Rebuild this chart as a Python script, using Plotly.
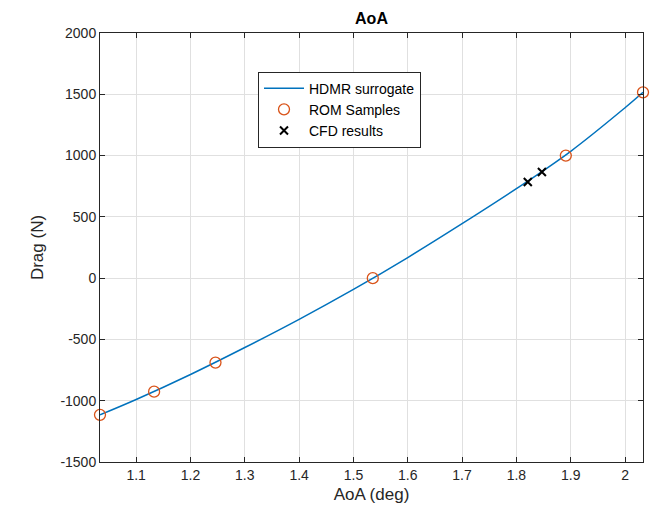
import plotly.graph_objects as go

# HDMR surrogate curve
curve_x = [1.0334, 1.1, 1.2, 1.3, 1.4, 1.5, 1.6, 1.7, 1.8, 1.9, 2.0, 2.0331]
curve_y = [-1115, -990, -786, -566, -336, -92, 168, 444, 730, 1035, 1390, 1516]

# ROM samples
rom_x = [1.0334, 1.133, 1.246, 1.5356, 1.891, 2.0331]
rom_y = [-1115, -926, -689, 0, 1000, 1516]

# CFD results
cfd_x = [1.821, 1.847]
cfd_y = [784, 866]

x_ticks = [1.1, 1.2, 1.3, 1.4, 1.5, 1.6, 1.7, 1.8, 1.9, 2.0]
x_tick_text = ["1.1", "1.2", "1.3", "1.4", "1.5", "1.6", "1.7", "1.8", "1.9", "2"]
y_ticks = [-1500, -1000, -500, 0, 500, 1000, 1500, 2000]
y_tick_text = ["-1500", "-1000", "-500", "0", "500", "1000", "1500", "2000"]

font_family = "Liberation Sans, Arial, Helvetica, sans-serif"
axis_col = "#262626"

fig = go.Figure()
fig.add_trace(go.Scatter(x=curve_x, y=curve_y, mode="lines", name="HDMR surrogate",
                         line=dict(color="#0072BD", width=1.5, shape="spline", smoothing=1.0)))
fig.add_trace(go.Scatter(x=rom_x, y=rom_y, mode="markers", name="ROM Samples", cliponaxis=False,
                         marker=dict(symbol="circle-open", size=11, color="#D95319", line=dict(width=1.3))))
fig.add_trace(go.Scatter(x=cfd_x, y=cfd_y, mode="markers", name="CFD results", cliponaxis=False,
                         marker=dict(symbol="x-thin-open", size=8, color="black", line=dict(width=2, color="black"))))

fig.update_layout(
    width=652, height=518,
    margin=dict(l=100, r=9, t=33, b=56),
    paper_bgcolor="white", plot_bgcolor="white",
    font=dict(family=font_family, size=14, color=axis_col),
    title=dict(text="<b>AoA</b>", x=0.5, xref="paper", xanchor="center", y=1 - 18/518, yanchor="middle",
               font=dict(size=16, color="black")),
    showlegend=True,
    legend=dict(x=(258 - 100) / 543, xanchor="left", y=(462 - 72) / 428.5, yanchor="top",
                bgcolor="white", bordercolor=axis_col, borderwidth=1,
                font=dict(size=14, color="black"), tracegroupgap=0, itemwidth=40),
)
fig.update_xaxes(range=[1.0334, 2.0331], tickvals=x_ticks, ticktext=x_tick_text,
                 showgrid=True, gridcolor="#e0e0e0", gridwidth=1,
                 showline=True, linecolor=axis_col, linewidth=1, mirror="ticks",
                 ticks="inside", ticklen=5, tickcolor=axis_col, zeroline=False,
                 tickfont=dict(size=14, color=axis_col),
                 title=dict(text="AoA (deg)", font=dict(size=17, color=axis_col), standoff=6))
fig.update_yaxes(range=[-1500, 2000], tickvals=y_ticks, ticktext=y_tick_text,
                 showgrid=True, gridcolor="#e0e0e0", gridwidth=1,
                 showline=True, linecolor=axis_col, linewidth=1, mirror="ticks",
                 ticks="inside", ticklen=5, tickcolor=axis_col, zeroline=False,
                 tickfont=dict(size=14, color=axis_col),
                 title=dict(text="Drag (N)", font=dict(size=17, color=axis_col), standoff=12))

fig.write_html("out.html")
